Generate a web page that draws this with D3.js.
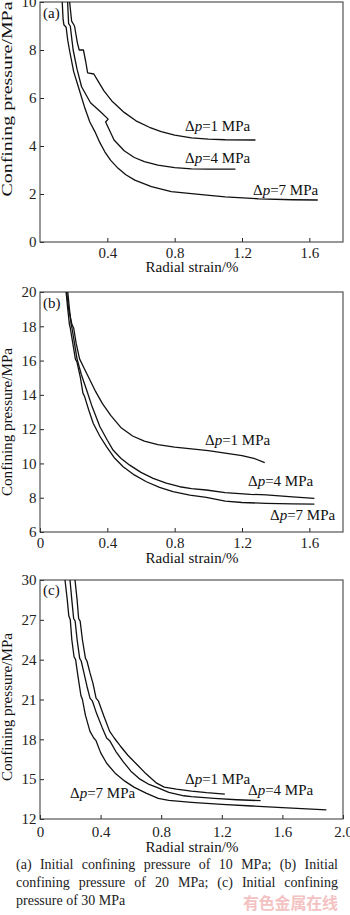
<!DOCTYPE html>
<html><head><meta charset="utf-8">
<script src="https://cdn.jsdelivr.net/npm/d3@7"></script>
<style>
body{margin:0;background:#fff;}
svg{display:block;position:absolute;left:0;top:0;}
#cap{position:absolute;left:16px;top:856px;width:322px;font:14px "Liberation Serif",serif;line-height:18px;text-align:justify;color:#222;}
</style>
</head><body>
<script>
// ---- data ----
const seriesNames = ["1", "4", "7"];           // Δp values (MPa)
const panelTags = ["(a)", "(b)", "(c)"];
const xTicksA = [0.4, 0.8, 1.2, 1.6];
const xTicksB = [0, 0.4, 0.8, 1.2, 1.6];
const xTicksC = [0, 0.4, 0.8, 1.2, 1.6, 2.0];
const yTicksA = [0, 2, 4, 6, 8, 10];
const yTicksB = [6, 8, 10, 12, 14, 16, 18, 20];
const yTicksC = [12, 15, 18, 21, 24, 27, 30];

// Panel (a): initial confining pressure 10 MPa
const aDp1 = [[0.176,10],[0.188,9.2],[0.205,9.0],[0.222,8.3],[0.233,8.0],[0.258,8.0],[0.272,7.5],[0.283,7.05],[0.32,7.0],[0.345,6.7],[0.38,6.3],[0.43,5.85],[0.5,5.4],[0.57,5.05],[0.65,4.78],[0.72,4.6],[0.8,4.45],[0.9,4.34],[1.0,4.29],[1.1,4.26],[1.28,4.25]];
const aDp4 = [[0.164,10],[0.17,9.1],[0.18,9.0],[0.19,8.4],[0.197,8.0],[0.22,7.2],[0.247,6.47],[0.3,5.8],[0.356,5.45],[0.405,5.12],[0.39,5.0],[0.41,4.7],[0.44,4.25],[0.5,3.8],[0.56,3.52],[0.62,3.35],[0.7,3.2],[0.8,3.1],[0.9,3.05],[1.0,3.04],[1.161,3.04]];
const aDp7 = [[0.132,10],[0.137,9.3],[0.142,9.05],[0.155,8.95],[0.165,8.4],[0.175,8.0],[0.2,7.1],[0.235,6.3],[0.267,5.57],[0.296,5.0],[0.326,4.6],[0.355,4.15],[0.385,3.76],[0.42,3.4],[0.464,3.07],[0.51,2.8],[0.563,2.58],[0.662,2.31],[0.78,2.1],[0.96,1.97],[1.1,1.88],[1.3,1.8],[1.5,1.76],[1.65,1.75]];

// Panel (b): initial confining pressure 20 MPa
const bDp1 = [[0.158,20],[0.17,19],[0.19,18.1],[0.2,17.9],[0.215,17],[0.235,16.1],[0.26,15.6],[0.29,15.0],[0.33,14.2],[0.37,13.5],[0.42,12.8],[0.48,12.1],[0.55,11.6],[0.62,11.3],[0.7,11.1],[0.8,10.95],[0.9,10.85],[1.0,10.75],[1.1,10.6],[1.2,10.45],[1.27,10.3],[1.335,10.05]];
const bDp4 = [[0.165,20],[0.175,19],[0.185,18.1],[0.19,17.9],[0.205,17],[0.22,16.1],[0.245,15.2],[0.277,14.28],[0.31,13.3],[0.356,12.14],[0.4,11.35],[0.434,10.78],[0.48,10.3],[0.533,9.9],[0.6,9.48],[0.672,9.13],[0.75,8.85],[0.83,8.64],[0.9,8.53],[0.988,8.45],[1.1,8.3],[1.25,8.2],[1.343,8.16],[1.5,8.05],[1.63,7.96]];
const bDp7 = [[0.155,20],[0.165,19],[0.175,18.1],[0.18,17.9],[0.195,17],[0.21,16.1],[0.22,15.9],[0.24,15],[0.255,14.1],[0.265,13.9],[0.29,13.1],[0.316,12.34],[0.355,11.6],[0.395,10.98],[0.44,10.35],[0.494,9.81],[0.56,9.33],[0.632,8.93],[0.71,8.6],[0.79,8.35],[0.89,8.15],[0.988,8.02],[1.1,7.8],[1.2,7.72],[1.343,7.67],[1.5,7.64],[1.63,7.63]];

// Panel (c): initial confining pressure 30 MPa
const cDp1 = [[0.231,30],[0.245,28.5],[0.255,27.1],[0.265,26.9],[0.28,25.5],[0.3,24.1],[0.31,23.9],[0.33,23.0],[0.35,22.2],[0.37,21.1],[0.385,20.9],[0.42,19.8],[0.46,18.6],[0.49,18.1],[0.53,17.5],[0.58,16.8],[0.64,16.1],[0.7,15.4],[0.77,14.7],[0.82,14.4],[0.9,14.25],[1.0,14.1],[1.1,13.98],[1.22,13.88]];
const cDp4 = [[0.198,30],[0.21,28.5],[0.222,27.1],[0.232,26.9],[0.245,25.5],[0.262,24.1],[0.272,23.9],[0.29,23],[0.31,22],[0.33,21.1],[0.345,20.9],[0.375,19.9],[0.41,18.9],[0.44,18.1],[0.46,17.9],[0.5,17.1],[0.55,16.3],[0.6,15.6],[0.66,15.0],[0.72,14.6],[0.78,14.35],[0.85,14.0],[0.95,13.75],[1.0,13.68],[1.15,13.55],[1.3,13.45],[1.456,13.38]];
const cDp7 = [[0.165,30],[0.18,28.5],[0.19,27.3],[0.2,27],[0.21,25.5],[0.225,24.2],[0.235,24],[0.25,22.8],[0.27,21.3],[0.28,21],[0.3,19.8],[0.33,18.6],[0.355,18.1],[0.37,17.9],[0.4,17.0],[0.44,16.2],[0.5,15.4],[0.56,14.85],[0.62,14.4],[0.7,13.95],[0.78,13.55],[0.85,13.4],[1.0,13.25],[1.2,13.1],[1.4,12.98],[1.6,12.85],[1.89,12.68]];

const captionText = "(a) Initial confining pressure of 10 MPa; (b) Initial confining pressure of 20 MPa; (c) Initial confining pressure of 30 MPa";
const yTitle = "Confining pressure/MPa";
const xTitle = "Radial strain/%";
const watermark = "有色金属在线";

// ---- layout ----
const W = 350, H = 915, L = 40, R = 343;
const FONT = '"Liberation Serif", "Times New Roman", serif';
const panels = [
  {tag: panelTags[0], xDom: [0, 1.8], yDom: [0, 10], top: 2, bottom: 242, xTicks: xTicksA, yTicks: yTicksA,
   series: [aDp1, aDp4, aDp7], lab: [[185,131],[185,163],[253,195]], tickPad: 5, xTitleY: 272, yMid: 99, yLen: 195, tagY: 18},
  {tag: panelTags[1], xDom: [0, 1.8], yDom: [6, 20], top: 292, bottom: 532, xTicks: xTicksB, yTicks: yTicksB,
   series: [bDp1, bDp4, bDp7], lab: [[205,445],[248,486],[270,520]], tickPad: 5, xTitleY: 563, yMid: 422, yLen: 148, tagY: 308},
  {tag: panelTags[2], xDom: [0, 2.0], yDom: [12, 30], top: 580, bottom: 819, xTicks: xTicksC, yTicks: yTicksC,
   series: [cDp1, cDp4, cDp7], lab: [[185,784],[248,795],[70,798]], tickPad: 7, xTitleY: 852, yMid: 707, yLen: 148, tagY: 595}
];

const svg = d3.select("body").append("svg").attr("width", W).attr("height", H);
const defs = svg.append("defs");

panels.forEach((p, i) => {
  const x = d3.scaleLinear().domain(p.xDom).range([L, R]);
  const y = d3.scaleLinear().domain(p.yDom).range([p.bottom, p.top]);
  const g = svg.append("g");

  defs.append("clipPath").attr("id", "clip" + i)
    .append("rect").attr("x", L).attr("y", p.top).attr("width", R - L).attr("height", p.bottom - p.top);

  // axes with inward ticks
  const xa = g.append("g").attr("transform", `translate(0,${p.bottom})`)
    .call(d3.axisBottom(x).tickValues(p.xTicks).tickSizeInner(-4).tickSizeOuter(0).tickPadding(p.tickPad)
      .tickFormat(d => d === 0 ? "0" : d3.format(".1f")(d)));
  const ya = g.append("g").attr("transform", `translate(${L},0)`)
    .call(d3.axisLeft(y).tickValues(p.yTicks).tickSizeInner(-4).tickSizeOuter(0).tickPadding(3.5)
      .tickFormat(d3.format("d")));
  [xa, ya].forEach(a => {
    a.select(".domain").remove();
    a.selectAll("line").attr("stroke", "#222").attr("stroke-width", 1);
    a.selectAll("text").attr("font-family", FONT).attr("font-size", 15).attr("fill", "#222");
  });

  // frame
  g.append("rect").attr("x", L).attr("y", p.top).attr("width", R - L).attr("height", p.bottom - p.top)
    .attr("fill", "none").attr("stroke", "#444").attr("stroke-width", 1.1);

  // curves
  const line = d3.line().x(d => x(d[0])).y(d => y(d[1]));
  g.append("g").attr("clip-path", `url(#clip${i})`)
    .selectAll("path").data(p.series).join("path")
    .attr("d", line).attr("fill", "none").attr("stroke", "#111").attr("stroke-width", 1.3)
    .attr("stroke-linejoin", "round");

  // series labels
  p.series.forEach((s, k) => {
    const t = g.append("text").attr("x", p.lab[k][0]).attr("y", p.lab[k][1])
      .attr("font-family", FONT).attr("font-size", 15).attr("fill", "#111");
    t.append("tspan").text("Δ");
    t.append("tspan").attr("font-style", "italic").text("p");
    t.append("tspan").text("=" + seriesNames[k] + " MPa");
  });

  // panel tag
  g.append("text").attr("x", 43).attr("y", p.tagY).attr("font-family", FONT).attr("font-size", 15)
    .attr("fill", "#111").text(p.tag);

  // axis titles
  g.append("text").attr("x", 192).attr("y", p.xTitleY).attr("text-anchor", "middle")
    .attr("font-family", FONT).attr("font-size", 15).attr("fill", "#111").text(xTitle);
  g.append("text").attr("transform", `translate(12,${p.yMid}) rotate(-90)`).attr("text-anchor", "middle")
    .attr("font-family", FONT).attr("font-size", 15).attr("fill", "#111")
    .attr("textLength", p.yLen).attr("lengthAdjust", "spacingAndGlyphs").text(yTitle);
});

// watermark
svg.append("text").attr("x", 243).attr("y", 909).attr("font-family", '"Noto Sans CJK SC", sans-serif')
  .attr("font-weight", "bold").attr("font-size", 16).attr("fill", "#f3c2c2").attr("textLength", 95).text(watermark);

// caption
d3.select("body").append("div").attr("id", "cap").text(captionText);
</script>
</body></html>
